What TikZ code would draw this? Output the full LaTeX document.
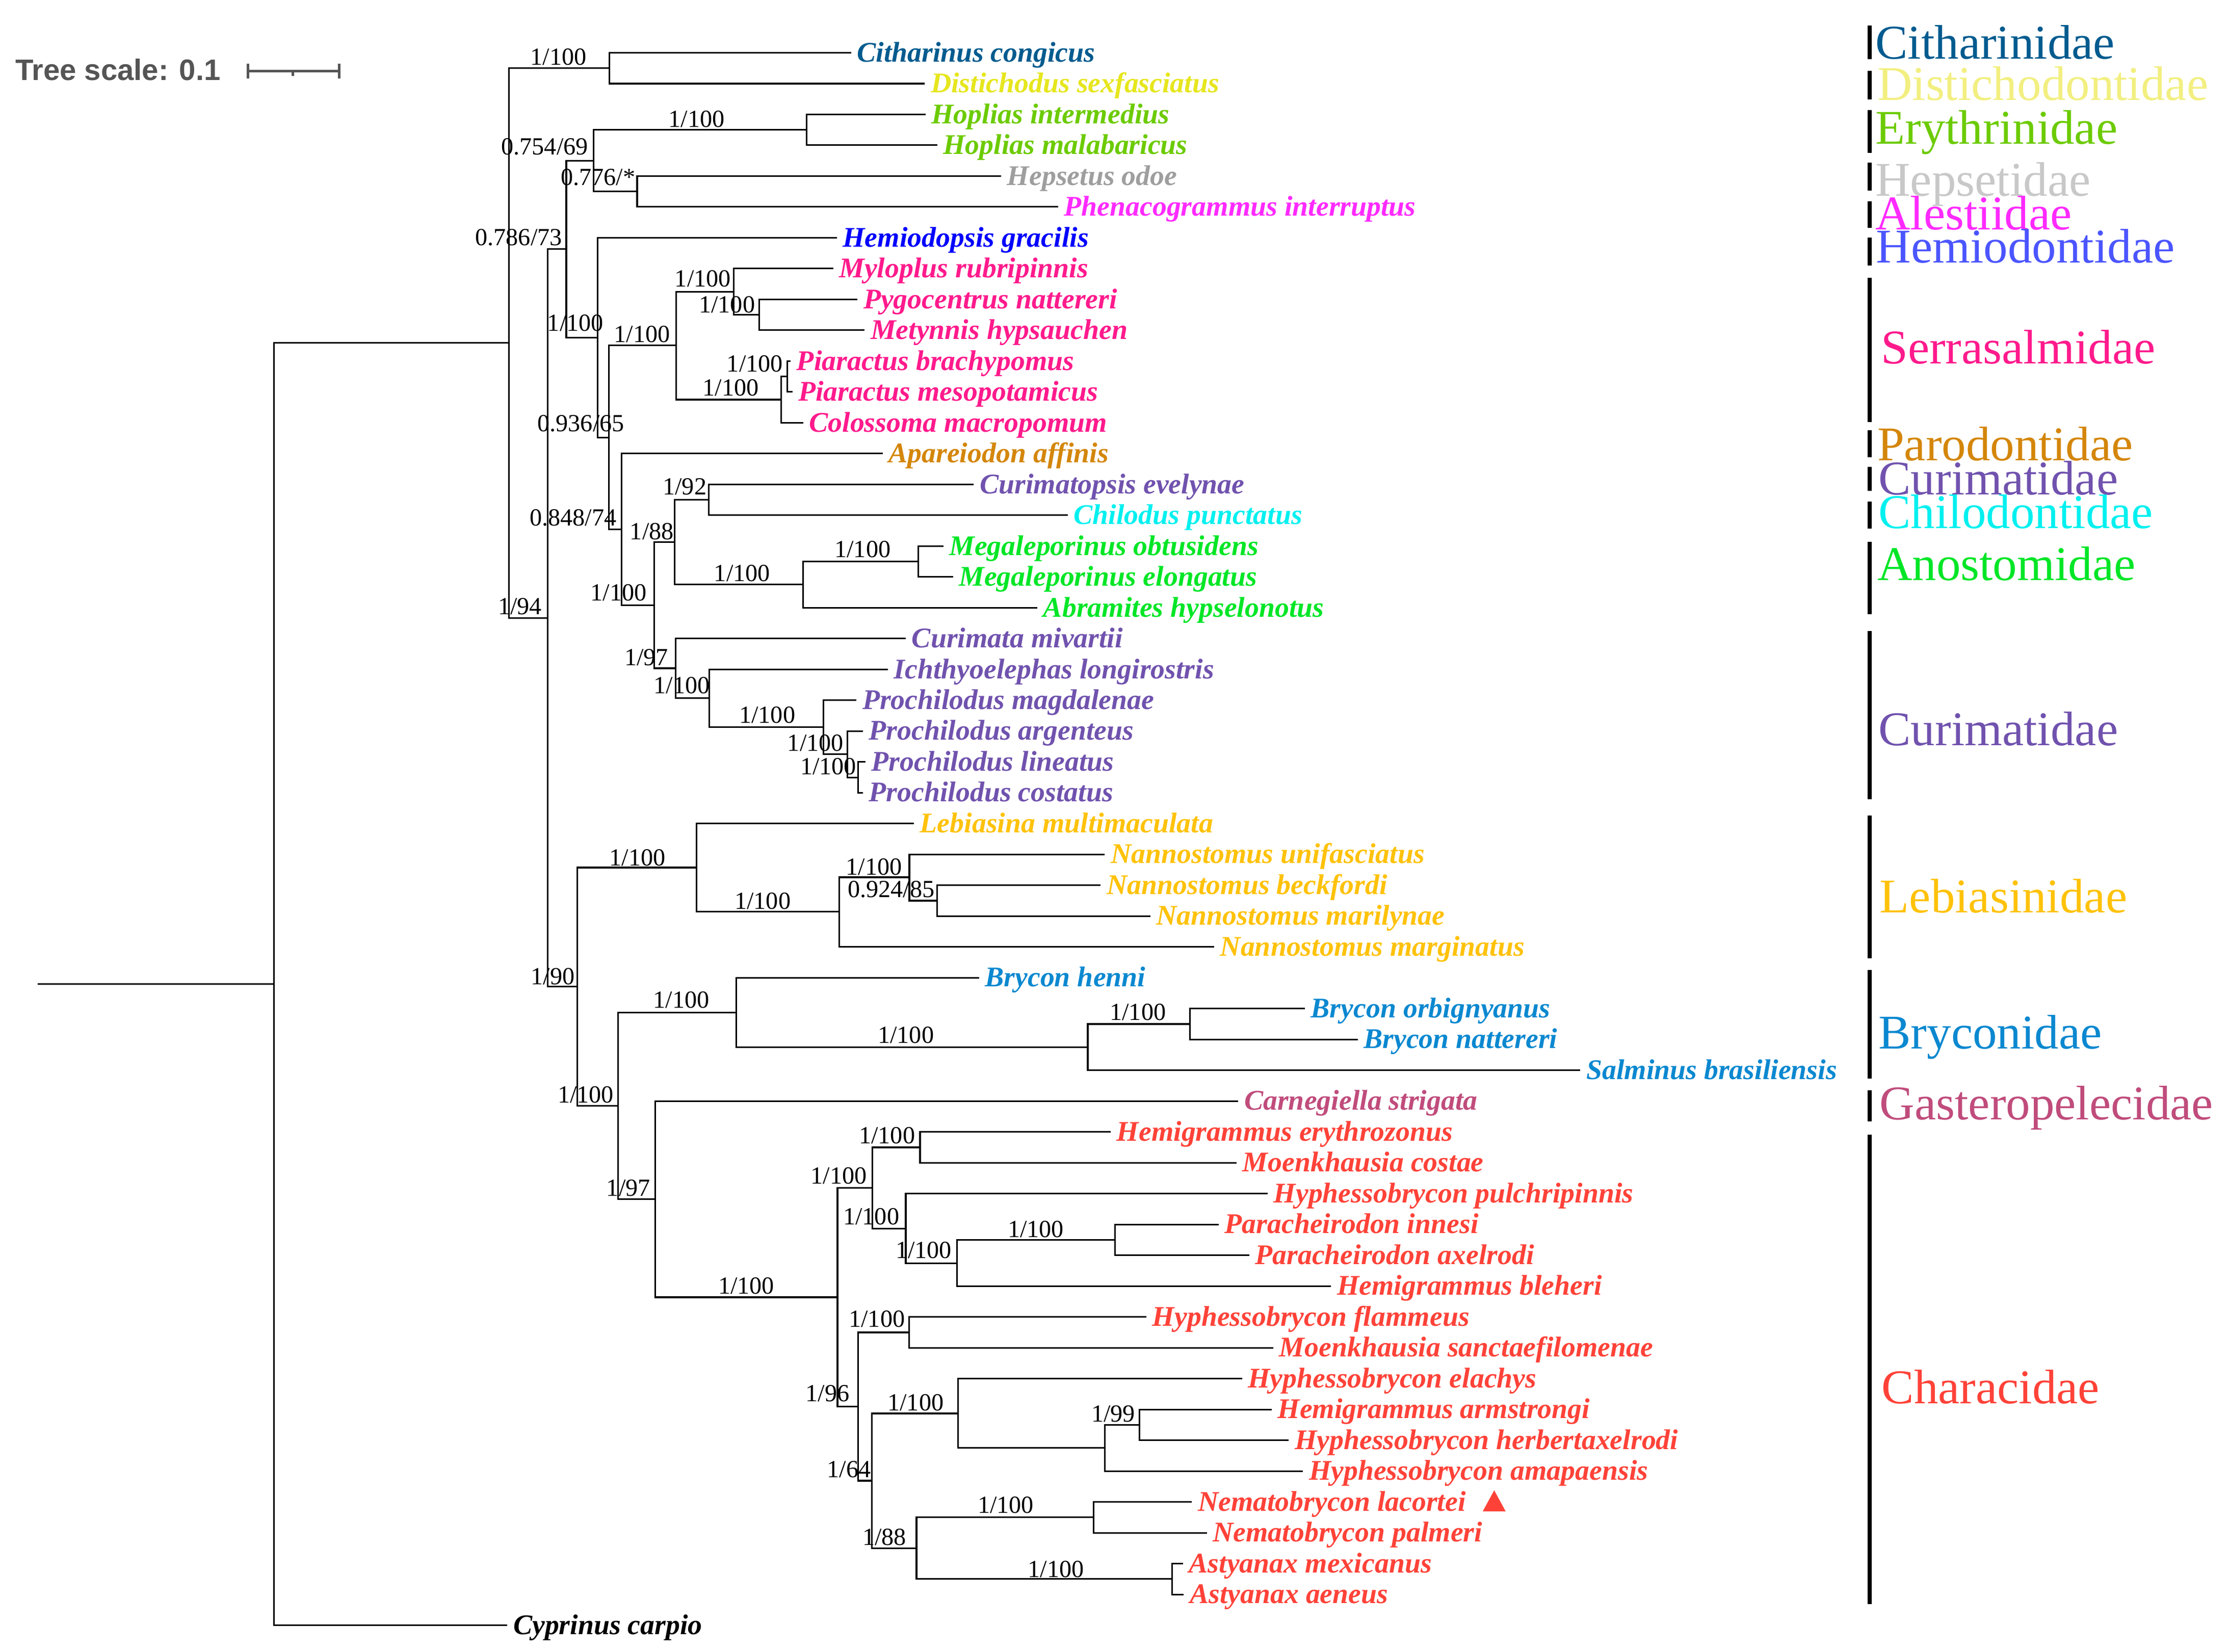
\documentclass[tikz,border=0pt]{standalone}
\usepackage{fontspec}
\setmainfont{Liberation Serif}
\newfontfamily\scalesans{Liberation Sans}
\definecolor{cith}{HTML}{005B8F}
\definecolor{dists}{HTML}{E6E61E}
\definecolor{distf}{HTML}{F2EF80}
\definecolor{eryth}{HTML}{6CCB00}
\definecolor{heps}{HTML}{9E9E9E}
\definecolor{hepf}{HTML}{C8C8C8}
\definecolor{alest}{HTML}{FF2AFF}
\definecolor{hemis}{HTML}{0000FF}
\definecolor{hemif}{HTML}{4B55FF}
\definecolor{serra}{HTML}{FF1A8C}
\definecolor{parod}{HTML}{D4860A}
\definecolor{curim}{HTML}{7052AE}
\definecolor{chilod}{HTML}{00F0F0}
\definecolor{anost}{HTML}{00E626}
\definecolor{lebias}{HTML}{FFC20A}
\definecolor{bryc}{HTML}{0A88D0}
\definecolor{gast}{HTML}{C04C7C}
\definecolor{chara}{HTML}{FF4238}
\definecolor{scalegray}{HTML}{555555}
\begin{document}
\begin{tikzpicture}[x=0.02cm,y=-0.02cm,
  br/.style={line width=0.65pt, black},
  sp/.style={anchor=base west, inner sep=0pt, xshift=2.2pt, yshift=-3.6pt,
     font=\fontsize{11.34}{13}\selectfont\bfseries\itshape},
  sv/.style={anchor=base, inner sep=0pt, font=\fontsize{9.8}{11}\selectfont},
  fam/.style={anchor=base west, inner sep=0pt, font=\fontsize{19.3}{22}\selectfont},
  famline/.style={line width=1.6pt, black}]
\useasboundingbox (0,0) rectangle (1560,1156.7);
\fill[white] (0,0) rectangle (1560,1156.7);

% scale bar
\node[anchor=base west, inner sep=0pt, text=scalegray,
  font=\fontsize{11.8}{13}\selectfont\scalesans\bfseries] (scaletxt) at (10.4,56.1) {Tree scale: 0.1};
\draw[scalegray, line width=1.1pt] (173.7,49.7) -- (237.6,49.7);
\draw[scalegray, line width=1.1pt] (173.7,44.6) -- (173.7,55);
\draw[scalegray, line width=1.1pt] (237.6,44.6) -- (237.6,55);
\draw[scalegray, line width=1.1pt] (205.1,49.7) -- (205.1,53);

% leaf ends
\coordinate (l1) at (595.9,36.9);
\coordinate (l2) at (647.5,58.49);
\coordinate (l3) at (648,80.08);
\coordinate (l4) at (656.2,101.67);
\coordinate (l5) at (701,123.26);
\coordinate (l6) at (740.8,144.85);
\coordinate (l7) at (585.9,166.44);
\coordinate (l8) at (583.4,188.03);
\coordinate (l9) at (600.4,209.62);
\coordinate (l10) at (605.4,231.21);
\coordinate (l11) at (553.6,252.8);
\coordinate (l12) at (554.8,274.39);
\coordinate (l13) at (562.3,295.98);
\coordinate (l14) at (618,317.57);
\coordinate (l15) at (681.8,339.16);
\coordinate (l16) at (747.6,360.75);
\coordinate (l17) at (660.5,382.34);
\coordinate (l18) at (667.3,403.93);
\coordinate (l19) at (726.3,425.52);
\coordinate (l20) at (634.2,447.11);
\coordinate (l21) at (621.7,468.7);
\coordinate (l22) at (599.7,490.29);
\coordinate (l23) at (604.2,511.88);
\coordinate (l24) at (605.9,533.47);
\coordinate (l25) at (604.2,555.06);
\coordinate (l26) at (639.9,576.65);
\coordinate (l27) at (773.5,598.24);
\coordinate (l28) at (770.7,619.83);
\coordinate (l29) at (805.4,641.42);
\coordinate (l30) at (850.1,663.01);
\coordinate (l31) at (685.5,684.6);
\coordinate (l32) at (913.6,706.19);
\coordinate (l33) at (950.6,727.78);
\coordinate (l34) at (1106.5,749.37);
\coordinate (l35) at (867,770.96);
\coordinate (l36) at (777.7,792.55);
\coordinate (l37) at (865.8,814.14);
\coordinate (l38) at (887.6,835.73);
\coordinate (l39) at (853.3,857.32);
\coordinate (l40) at (874.6,878.91);
\coordinate (l41) at (932,900.5);
\coordinate (l42) at (802.7,922.09);
\coordinate (l43) at (891.5,943.68);
\coordinate (l44) at (869.6,965.27);
\coordinate (l45) at (890.4,986.86);
\coordinate (l46) at (902.4,1008.45);
\coordinate (l47) at (912.3,1030.04);
\coordinate (l48) at (834.5,1051.63);
\coordinate (l49) at (845,1073.22);
\coordinate (l50) at (828.3,1094.81);
\coordinate (l51) at (828.8,1116.4);
\coordinate (l52) at (355.2,1137.99);

% internal nodes
\coordinate (stem) at (26.3,688.9);
\coordinate (R) at (191.7,688.9);
\coordinate (I) at (356.5,239.9);
\coordinate (CD) at (426.7,47.7);
\coordinate (J) at (383.5,432.7);
\coordinate (K) at (396.5,174.4);
\coordinate (L) at (415.7,112.5);
\coordinate (H1) at (564.8,90.9);
\coordinate (H2) at (446.1,134.05);
\coordinate (M) at (418.6,236.4);
\coordinate (N) at (426.4,306.3);
\coordinate (S) at (473.4,241.8);
\coordinate (S1) at (513.8,204.2);
\coordinate (S2) at (531.5,220.4);
\coordinate (S3) at (546.8,279.8);
\coordinate (S4) at (551.1,263.6);
\coordinate (O) at (435.1,370.6);
\coordinate (P) at (458.2,423.8);
\coordinate (Q) at (472.4,379.6);
\coordinate (Q1) at (496.2,349.95);
\coordinate (Q2) at (562.3,409.3);
\coordinate (Q3) at (643,393.1);
\coordinate (T) at (473,467.9);
\coordinate (T1) at (496.5,488.8);
\coordinate (T2) at (576.6,509);
\coordinate (T3) at (593.4,527.9);
\coordinate (T4) at (600.9,544.3);
\coordinate (U) at (404.1,690.9);
\coordinate (V) at (487.6,607.4);
\coordinate (V1) at (587.6,638.3);
\coordinate (V2) at (636.7,614.2);
\coordinate (V3) at (656.2,630.6);
\coordinate (W) at (432.7,774.3);
\coordinate (X) at (515.6,708.9);
\coordinate (X1) at (761.6,733.2);
\coordinate (X2) at (833.1,717);
\coordinate (Y) at (458.9,839.7);
\coordinate (C0) at (586.4,908.3);
\coordinate (C2) at (610.9,831.7);
\coordinate (C1) at (644.2,803.35);
\coordinate (C3) at (634.2,860.2);
\coordinate (C4) at (670,884.5);
\coordinate (C5) at (780.7,868.1);
\coordinate (D) at (600.9,984.85);
\coordinate (D1) at (636.5,932.9);
\coordinate (D2) at (610.4,1036.8);
\coordinate (D3) at (670.8,989.7);
\coordinate (D4) at (773.7,1013.8);
\coordinate (D5) at (797.7,997.65);
\coordinate (D6) at (641.7,1084.0);
\coordinate (D7) at (765.7,1062.4);
\coordinate (D8) at (820.8,1105.6);

% branches
\draw[br] (stem) -- (R);
\draw[br] (R) |- (I);  \draw[br] (R) |- (l52);
\draw[br] (I) |- (CD); \draw[br] (I) |- (J);
\draw[br] (CD) |- (l1); \draw[br] (CD) |- (l2);
\draw[br] (J) |- (K); \draw[br] (J) |- (U);
\draw[br] (K) |- (L); \draw[br] (K) |- (M);
\draw[br] (L) |- (H1); \draw[br] (L) |- (H2);
\draw[br] (H1) |- (l3); \draw[br] (H1) |- (l4);
\draw[br] (H2) |- (l5); \draw[br] (H2) |- (l6);
\draw[br] (M) |- (l7); \draw[br] (M) |- (N);
\draw[br] (N) |- (S); \draw[br] (N) |- (O);
\draw[br] (S) |- (S1); \draw[br] (S) |- (S3);
\draw[br] (S1) |- (l8); \draw[br] (S1) |- (S2);
\draw[br] (S2) |- (l9); \draw[br] (S2) |- (l10);
\draw[br] (S3) |- (S4); \draw[br] (S3) |- (l13);
\draw[br] (S4) |- (l11); \draw[br] (S4) |- (l12);
\draw[br] (O) |- (l14); \draw[br] (O) |- (P);
\draw[br] (P) |- (Q); \draw[br] (P) |- (T);
\draw[br] (Q) |- (Q1); \draw[br] (Q) |- (Q2);
\draw[br] (Q1) |- (l15); \draw[br] (Q1) |- (l16);
\draw[br] (Q2) |- (Q3); \draw[br] (Q2) |- (l19);
\draw[br] (Q3) |- (l17); \draw[br] (Q3) |- (l18);
\draw[br] (T) |- (l20); \draw[br] (T) |- (T1);
\draw[br] (T1) |- (l21); \draw[br] (T1) |- (T2);
\draw[br] (T2) |- (l22); \draw[br] (T2) |- (T3);
\draw[br] (T3) |- (l23); \draw[br] (T3) |- (T4);
\draw[br] (T4) |- (l24); \draw[br] (T4) |- (l25);
\draw[br] (U) |- (V); \draw[br] (U) |- (W);
\draw[br] (V) |- (l26); \draw[br] (V) |- (V1);
\draw[br] (V1) |- (V2); \draw[br] (V1) |- (l30);
\draw[br] (V2) |- (l27); \draw[br] (V2) |- (V3);
\draw[br] (V3) |- (l28); \draw[br] (V3) |- (l29);
\draw[br] (W) |- (X); \draw[br] (W) |- (Y);
\draw[br] (X) |- (l31); \draw[br] (X) |- (X1);
\draw[br] (X1) |- (X2); \draw[br] (X1) |- (l34);
\draw[br] (X2) |- (l32); \draw[br] (X2) |- (l33);
\draw[br] (Y) |- (l35); \draw[br] (Y) |- (C0);
\draw[br] (C0) |- (C2); \draw[br] (C0) |- (D);
\draw[br] (C2) |- (C1); \draw[br] (C2) |- (C3);
\draw[br] (C1) |- (l36); \draw[br] (C1) |- (l37);
\draw[br] (C3) |- (l38); \draw[br] (C3) |- (C4);
\draw[br] (C4) |- (C5); \draw[br] (C4) |- (l41);
\draw[br] (C5) |- (l39); \draw[br] (C5) |- (l40);
\draw[br] (D) |- (D1); \draw[br] (D) |- (D2);
\draw[br] (D1) |- (l42); \draw[br] (D1) |- (l43);
\draw[br] (D2) |- (D3); \draw[br] (D2) |- (D6);
\draw[br] (D3) |- (l44); \draw[br] (D3) |- (D4);
\draw[br] (D4) |- (D5); \draw[br] (D4) |- (l47);
\draw[br] (D5) |- (l45); \draw[br] (D5) |- (l46);
\draw[br] (D6) |- (D7); \draw[br] (D6) |- (D8);
\draw[br] (D7) |- (l48); \draw[br] (D7) |- (l49);
\draw[br] (D8) |- (l50); \draw[br] (D8) |- (l51);

% species labels
\node[sp, text=cith] (t1) at (l1) {Citharinus congicus};
\node[sp, text=dists] (t2) at (l2) {Distichodus sexfasciatus};
\node[sp, text=eryth] (t3) at (l3) {Hoplias intermedius};
\node[sp, text=eryth] (t4) at (l4) {Hoplias malabaricus};
\node[sp, text=heps] (t5) at (l5) {Hepsetus odoe};
\node[sp, text=alest] (t6) at (l6) {Phenacogrammus interruptus};
\node[sp, text=hemis] (t7) at (l7) {Hemiodopsis gracilis};
\node[sp, text=serra] (t8) at (l8) {Myloplus rubripinnis};
\node[sp, text=serra] (t9) at (l9) {Pygocentrus nattereri};
\node[sp, text=serra] (t10) at (l10) {Metynnis hypsauchen};
\node[sp, text=serra] (t11) at (l11) {Piaractus brachypomus};
\node[sp, text=serra] (t12) at (l12) {Piaractus mesopotamicus};
\node[sp, text=serra] (t13) at (l13) {Colossoma macropomum};
\node[sp, text=parod] (t14) at (l14) {Apareiodon affinis};
\node[sp, text=curim] (t15) at (l15) {Curimatopsis evelynae};
\node[sp, text=chilod] (t16) at (l16) {Chilodus punctatus};
\node[sp, text=anost] (t17) at (l17) {Megaleporinus obtusidens};
\node[sp, text=anost] (t18) at (l18) {Megaleporinus elongatus};
\node[sp, text=anost] (t19) at (l19) {Abramites hypselonotus};
\node[sp, text=curim] (t20) at (l20) {Curimata mivartii};
\node[sp, text=curim] (t21) at (l21) {Ichthyoelephas longirostris};
\node[sp, text=curim] (t22) at (l22) {Prochilodus magdalenae};
\node[sp, text=curim] (t23) at (l23) {Prochilodus argenteus};
\node[sp, text=curim] (t24) at (l24) {Prochilodus lineatus};
\node[sp, text=curim] (t25) at (l25) {Prochilodus costatus};
\node[sp, text=lebias] (t26) at (l26) {Lebiasina multimaculata};
\node[sp, text=lebias] (t27) at (l27) {Nannostomus unifasciatus};
\node[sp, text=lebias] (t28) at (l28) {Nannostomus beckfordi};
\node[sp, text=lebias] (t29) at (l29) {Nannostomus marilynae};
\node[sp, text=lebias] (t30) at (l30) {Nannostomus marginatus};
\node[sp, text=bryc] (t31) at (l31) {Brycon henni};
\node[sp, text=bryc] (t32) at (l32) {Brycon orbignyanus};
\node[sp, text=bryc] (t33) at (l33) {Brycon nattereri};
\node[sp, text=bryc] (t34) at (l34) {Salminus brasiliensis};
\node[sp, text=gast] (t35) at (l35) {Carnegiella strigata};
\node[sp, text=chara] (t36) at (l36) {Hemigrammus erythrozonus};
\node[sp, text=chara] (t37) at (l37) {Moenkhausia costae};
\node[sp, text=chara] (t38) at (l38) {Hyphessobrycon pulchripinnis};
\node[sp, text=chara] (t39) at (l39) {Paracheirodon innesi};
\node[sp, text=chara] (t40) at (l40) {Paracheirodon axelrodi};
\node[sp, text=chara] (t41) at (l41) {Hemigrammus bleheri};
\node[sp, text=chara] (t42) at (l42) {Hyphessobrycon flammeus};
\node[sp, text=chara] (t43) at (l43) {Moenkhausia sanctaefilomenae};
\node[sp, text=chara] (t44) at (l44) {Hyphessobrycon elachys};
\node[sp, text=chara] (t45) at (l45) {Hemigrammus armstrongi};
\node[sp, text=chara] (t46) at (l46) {Hyphessobrycon herbertaxelrodi};
\node[sp, text=chara] (t47) at (l47) {Hyphessobrycon amapaensis};
\node[sp, text=chara] (t48) at (l48) {Nematobrycon lacortei};
\node[sp, text=chara] (t49) at (l49) {Nematobrycon palmeri};
\node[sp, text=chara] (t50) at (l50) {Astyanax mexicanus};
\node[sp, text=chara] (t51) at (l51) {Astyanax aeneus};
\node[sp, text=black] (t52) at (l52) {Cyprinus carpio};

% marker triangle
\fill[chara] (1038.2,1058.2) -- (1054.2,1058.2) -- (1046.2,1043.5) -- cycle;

% support values
\node[sv] (sv1) at (391,45.4) {1/100};
\node[sv] (sv2) at (381.4,108.3) {0.754/69};
\node[sv] (sv3) at (418.7,129.8) {0.776/*};
\node[sv] (sv4) at (487.7,89.1) {1/100};
\node[sv] (sv5) at (363.2,172) {0.786/73};
\node[sv] (sv6) at (402.9,231.8) {1/100};
\node[sv] (sv7) at (449.5,239.7) {1/100};
\node[sv] (sv8) at (492.1,200.8) {1/100};
\node[sv] (sv9) at (509,218.8) {1/100};
\node[sv] (sv10) at (528.5,260.2) {1/100};
\node[sv] (sv11) at (511.6,277) {1/100};
\node[sv] (sv12) at (406.7,302.2) {0.936/65};
\node[sv] (sv13) at (401.3,368.2) {0.848/74};
\node[sv] (sv14) at (479.4,346.4) {1/92};
\node[sv] (sv15) at (456.4,377.9) {1/88};
\node[sv] (sv16) at (604,390.1) {1/100};
\node[sv] (sv17) at (519.6,406.9) {1/100};
\node[sv] (sv18) at (433.2,420.5) {1/100};
\node[sv] (sv19) at (364,430.1) {1/94};
\node[sv] (sv20) at (452.6,465.9) {1/97};
\node[sv] (sv21) at (477.4,485.7) {1/100};
\node[sv] (sv22) at (537.2,506.2) {1/100};
\node[sv] (sv23) at (571,525.9) {1/100};
\node[sv] (sv24) at (580,542.4) {1/100};
\node[sv] (sv25) at (387,689.5) {1/90};
\node[sv] (sv26) at (446.3,606.1) {1/100};
\node[sv] (sv27) at (534,636.4) {1/100};
\node[sv] (sv28) at (612,612.5) {1/100};
\node[sv] (sv29) at (624,628.4) {0.924/85};
\node[sv] (sv30) at (410.1,772.2) {1/100};
\node[sv] (sv31) at (477,705.7) {1/100};
\node[sv] (sv32) at (634.3,730.4) {1/100};
\node[sv] (sv33) at (796.7,714.2) {1/100};
\node[sv] (sv34) at (440,837.5) {1/97};
\node[sv] (sv35) at (522.5,905.8) {1/100};
\node[sv] (sv36) at (587.3,829) {1/100};
\node[sv] (sv37) at (621.1,800.6) {1/100};
\node[sv] (sv38) at (610,857.5) {1/100};
\node[sv] (sv39) at (646.7,881.1) {1/100};
\node[sv] (sv40) at (725.2,866.2) {1/100};
\node[sv] (sv41) at (579.4,981.4) {1/96};
\node[sv] (sv42) at (614,929.2) {1/100};
\node[sv] (sv43) at (594.5,1034.4) {1/64};
\node[sv] (sv44) at (641.1,987.8) {1/100};
\node[sv] (sv45) at (779.5,995.6) {1/99};
\node[sv] (sv46) at (619.2,1081.8) {1/88};
\node[sv] (sv47) at (704.2,1059.5) {1/100};
\node[sv] (sv48) at (739.3,1104.5) {1/100};

% family bars
\draw[famline] (1309,18) -- (1309,41.3);
\draw[famline] (1309,49.6) -- (1309,69.5);
\draw[famline] (1309,77) -- (1309,107);
\draw[famline] (1309,113.8) -- (1309,133.3);
\draw[famline] (1309,140.9) -- (1309,159.6);
\draw[famline] (1309,166.4) -- (1309,185.9);
\draw[famline] (1309,194.6) -- (1309,295.6);
\draw[famline] (1309,301.2) -- (1309,320);
\draw[famline] (1309,326.8) -- (1309,343.7);
\draw[famline] (1309,351.2) -- (1309,370);
\draw[famline] (1309,379.4) -- (1309,430);
\draw[famline] (1309,442) -- (1309,559.6);
\draw[famline] (1309,570.9) -- (1309,671.1);
\draw[famline] (1309,679.3) -- (1309,755.1);
\draw[famline] (1309,763.3) -- (1309,785);
\draw[famline] (1309,794.4) -- (1309,1123);

% family labels
\node[fam, text=cith] (f1) at (1312.8,41.3) {Citharinidae};
\node[fam, text=distf] (f2) at (1314.1,70.2) {Distichodontidae};
\node[fam, text=eryth] (f3) at (1312.8,100.7) {Erythrinidae};
\node[fam, text=hepf] (f4) at (1312.8,137.1) {Hepsetidae};
\node[fam, text=alest] (f5) at (1312.8,160.8) {Alestiidae};
\node[fam, text=hemif] (f6) at (1313.3,184) {Hemiodontidae};
\node[fam, text=serra] (f7) at (1316.7,254.7) {Serrasalmidae};
\node[fam, text=parod] (f8) at (1314.1,322.3) {Parodontidae};
\node[fam, text=curim] (f9) at (1315,346.3) {Curimatidae};
\node[fam, text=chilod] (f10) at (1315,370) {Chilodontidae};
\node[fam, text=anost] (f11) at (1314.1,406.4) {Anostomidae};
\node[fam, text=curim] (f12) at (1315,522) {Curimatidae};
\node[fam, text=lebias] (f13) at (1315.8,639) {Lebiasinidae};
\node[fam, text=bryc] (f14) at (1315,734.2) {Bryconidae};
\node[fam, text=gast] (f15) at (1315.8,783.9) {Gasteropelecidae};
\node[fam, text=chara] (f16) at (1317.2,982.6) {Characidae};
\end{tikzpicture}
\end{document}
